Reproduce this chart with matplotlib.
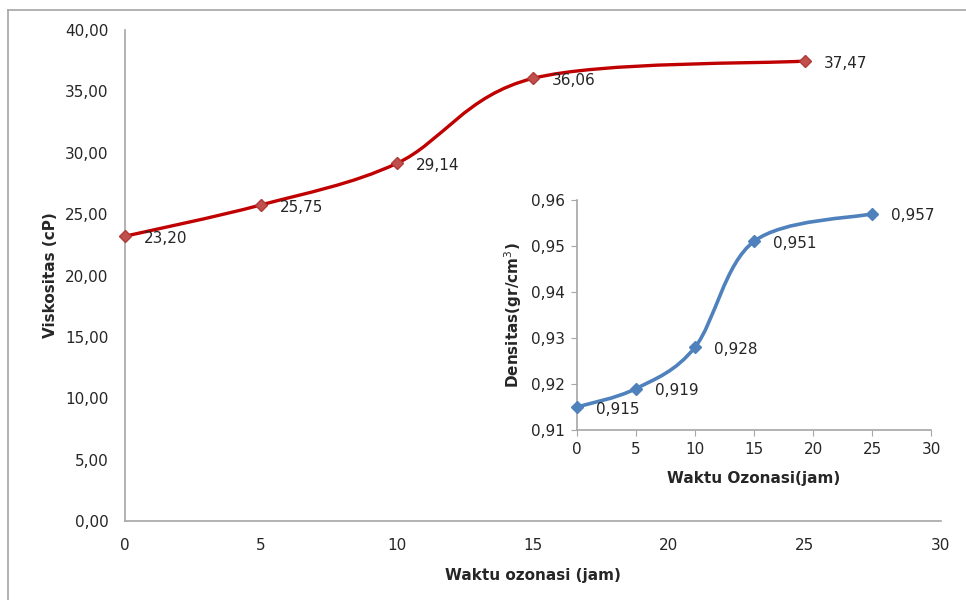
import numpy as np
import matplotlib.pyplot as plt
from matplotlib.path import Path
from matplotlib.patches import PathPatch
from matplotlib.lines import Line2D

# Datos: viskositas
waktu = [0, 5, 10, 15, 25]
viskositas = [23.20, 25.75, 29.14, 36.06, 37.47]
visk_labels = ['23,20', '25,75', '29,14', '36,06', '37,47']

# Datos: densitas (inset)
densitas = [0.915, 0.919, 0.928, 0.951, 0.957]
dens_labels = ['0,915', '0,919', '0,928', '0,951', '0,957']

main_yticks = [0, 5, 10, 15, 20, 25, 30, 35, 40]
main_ylabels = ['0,00', '5,00', '10,00', '15,00', '20,00', '25,00', '30,00', '35,00', '40,00']
inset_yticks = [0.91, 0.92, 0.93, 0.94, 0.95, 0.96]
inset_ylabels = ['0,91', '0,92', '0,93', '0,94', '0,95', '0,96']
xticks = [0, 5, 10, 15, 20, 25, 30]

plt.rcParams['font.family'] = 'DejaVu Sans'
txt = '#262626'
grey = '#A6A6A6'
fs = 11


def smooth_path(x, y):
    # curva suavizada tipo Excel (Bezier por Catmull-Rom)
    p = np.column_stack([x, y]).astype(float)
    n = len(p)
    verts = [p[0]]
    codes = [Path.MOVETO]
    for i in range(n - 1):
        p0 = p[max(i - 1, 0)]
        p3 = p[min(i + 2, n - 1)]
        c1 = p[i] + (p[i + 1] - p0) / 6
        c2 = p[i + 1] - (p3 - p[i]) / 6
        verts += [c1, c2, p[i + 1]]
        codes += [Path.CURVE4] * 3
    return Path(verts, codes)


fig = plt.figure(figsize=(9.66, 6.0), dpi=100)

# marco del gráfico
fig.add_artist(Line2D([8 / 966, 1], [1 - 10 / 600, 1 - 10 / 600], color=grey, lw=1.2))
fig.add_artist(Line2D([8 / 966, 8 / 966], [0, 1 - 10 / 600], color=grey, lw=1.2))

# Gráfico principal
ax = fig.add_axes([125 / 966, 1 - 521 / 600, (941 - 125) / 966, (521 - 30) / 600])
ax.add_patch(PathPatch(smooth_path(waktu, viskositas), facecolor='none',
                       edgecolor='#C00000', lw=2.4, zorder=2))
ax.plot(waktu, viskositas, ls='none', marker='D', ms=6.5, color='#C0504D',
        mec='#B03A37', zorder=3, clip_on=False)
for xv, yv, lab in zip(waktu, viskositas, visk_labels):
    ax.annotate(lab, (xv, yv), xytext=(13.5, -1.5), textcoords='offset points',
                ha='left', va='center', fontsize=fs, color=txt)
ax.set_xlim(0, 30)
ax.set_ylim(0, 40)
ax.set_xticks(xticks)
ax.set_yticks(main_yticks)
ax.set_yticklabels(main_ylabels)
ax.tick_params(length=0, labelsize=fs, labelcolor=txt, pad=12)
for s in ['top', 'right']:
    ax.spines[s].set_visible(False)
for s in ['left', 'bottom']:
    ax.spines[s].set_color(grey)
    ax.spines[s].set_linewidth(1.2)
ax.set_xlabel('Waktu ozonasi (jam)', fontsize=fs, fontweight='bold', color=txt, labelpad=11)
ax.set_ylabel('Viskositas (cP)', fontsize=fs, fontweight='bold', color=txt, labelpad=5)

# Gráfico insertado
ax2 = fig.add_axes([577 / 966, 1 - 430 / 600, (931 - 577) / 966, (430 - 200) / 600])
ax2.add_patch(PathPatch(smooth_path(waktu, densitas), facecolor='none',
                        edgecolor='#4F81BD', lw=2.6, zorder=2))
ax2.plot(waktu, densitas, ls='none', marker='D', ms=6.5, color='#4F81BD',
         zorder=3, clip_on=False)
for xv, yv, lab in zip(waktu, densitas, dens_labels):
    ax2.annotate(lab, (xv, yv), xytext=(13.5, -1.5), textcoords='offset points',
                 ha='left', va='center', fontsize=fs, color=txt)
ax2.set_xlim(0, 30)
ax2.set_ylim(0.91, 0.96)
ax2.set_xticks(xticks)
ax2.set_yticks(inset_yticks)
ax2.set_yticklabels(inset_ylabels)
ax2.tick_params(length=4, color=grey, labelsize=fs, labelcolor=txt, pad=5)
for s in ['top', 'right']:
    ax2.spines[s].set_visible(False)
for s in ['left', 'bottom']:
    ax2.spines[s].set_color(grey)
    ax2.spines[s].set_linewidth(1.2)
ax2.set_xlabel('Waktu Ozonasi(jam)', fontsize=fs, fontweight='bold', color=txt, labelpad=10)
ax2.set_ylabel('Densitas(gr/cm$^3$)', fontsize=fs, fontweight='bold', color=txt, labelpad=5)

fig.savefig('out.png', dpi=100)
